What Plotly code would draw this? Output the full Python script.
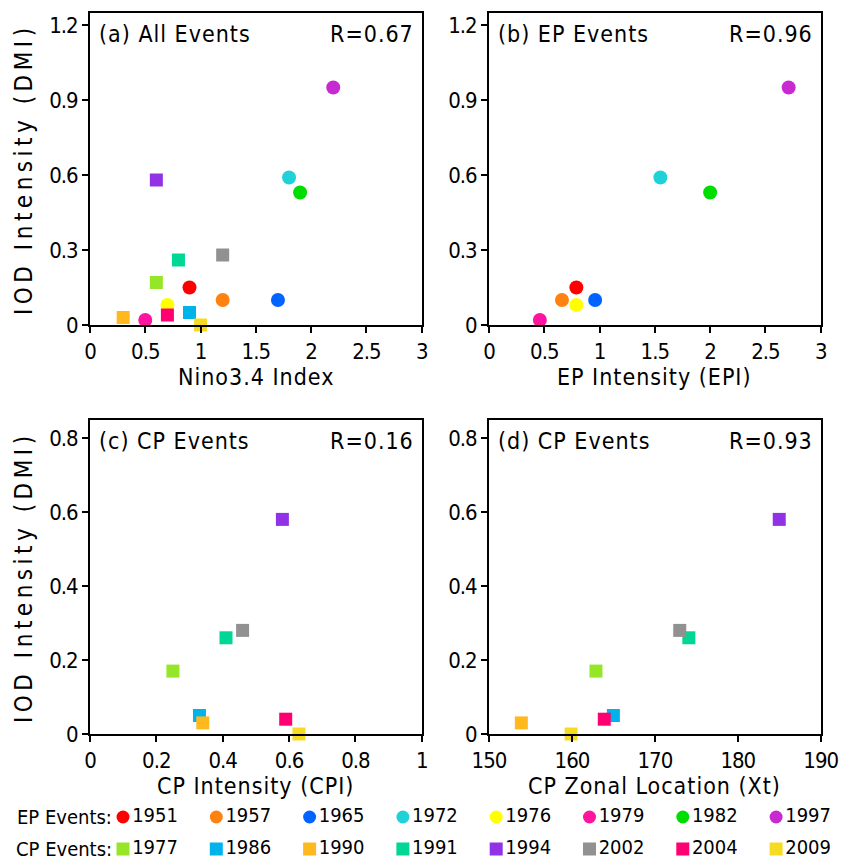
import plotly.graph_objects as go

# ---------------- data ----------------
ep_years = ["1951", "1957", "1965", "1972", "1976", "1979", "1982", "1997"]
ep_colors = ["#ff0000", "#ff8210", "#0064ff", "#20d2d8", "#ffff00", "#ff14a0", "#00de00", "#c82ad2"]
ep_nino34 = [0.90, 1.20, 1.70, 1.80, 0.70, 0.50, 1.90, 2.20]
ep_dmi = [0.15, 0.10, 0.10, 0.59, 0.08, 0.02, 0.53, 0.95]
ep_epi = [0.79, 0.66, 0.96, 1.55, 0.79, 0.46, 2.00, 2.71]

cp_years = ["1977", "1986", "1990", "1991", "1994", "2002", "2004", "2009"]
cp_colors = ["#96e628", "#00b4eb", "#ffb91e", "#00d796", "#9132e6", "#919191", "#ff0073", "#f5dc23"]
cp_nino34 = [0.60, 0.90, 0.30, 0.80, 0.60, 1.20, 0.70, 1.00]
cp_dmi = [0.17, 0.05, 0.03, 0.26, 0.58, 0.28, 0.04, 0.00]
cp_cpi = [0.25, 0.33, 0.34, 0.41, 0.58, 0.46, 0.59, 0.63]
cp_xt = [162.9, 165.0, 153.9, 174.1, 185.0, 173.0, 163.9, 159.9]

panel_titles = ["(a) All Events", "(b) EP Events", "(c) CP Events", "(d) CP Events"]
panel_r = ["R=0.67", "R=0.96", "R=0.16", "R=0.93"]
x_titles = ["Nino3.4 Index", "EP Intensity (EPI)", "CP Intensity (CPI)", "CP Zonal Location (Xt)"]
y_title = "IOD Intensity (DMI)"

top_yticks = [0, 0.3, 0.6, 0.9, 1.2]
top_yticklabels = ["0", "0.3", "0.6", "0.9", "1.2"]
bot_yticks = [0, 0.2, 0.4, 0.6, 0.8]
bot_yticklabels = ["0", "0.2", "0.4", "0.6", "0.8"]
ab_xticks = [0, 0.5, 1, 1.5, 2, 2.5, 3]
ab_xticklabels = ["0", "0.5", "1", "1.5", "2", "2.5", "3"]
c_xticks = [0, 0.2, 0.4, 0.6, 0.8, 1]
c_xticklabels = ["0", "0.2", "0.4", "0.6", "0.8", "1"]
d_xticks = [150, 160, 170, 180, 190]
d_xticklabels = ["150", "160", "170", "180", "190"]

# ---------------- style ----------------
W, H = 843, 860
FONT = "DejaVu Sans Condensed, DejaVu Sans, sans-serif"
FS = 23
LS = "1px"


def sp(t, ls=LS):
    return "<span style='letter-spacing:%s'>%s</span>" % (ls, t)


def px_dom_x(a, b):
    return [a / W, b / W]


def px_dom_y(top, bot):
    return [1 - bot / H, 1 - top / H]


fig = go.Figure()

panels = [
    dict(xd=px_dom_x(90, 421.7), yd=px_dom_y(13, 325), xr=[0, 3], yr=[0, 1.248],
         xt=ab_xticks, xtl=ab_xticklabels, yt=top_yticks, ytl=top_yticklabels),
    dict(xd=px_dom_x(489, 820.7), yd=px_dom_y(13, 325), xr=[0, 3], yr=[0, 1.248],
         xt=ab_xticks, xtl=ab_xticklabels, yt=top_yticks, ytl=top_yticklabels),
    dict(xd=px_dom_x(90, 421.7), yd=px_dom_y(420, 734), xr=[0, 1], yr=[0, 0.8486],
         xt=c_xticks, xtl=c_xticklabels, yt=bot_yticks, ytl=bot_yticklabels),
    dict(xd=px_dom_x(489, 820.7), yd=px_dom_y(420, 734), xr=[150, 190], yr=[0, 0.8486],
         xt=d_xticks, xtl=d_xticklabels, yt=bot_yticks, ytl=bot_yticklabels),
]

axis_common = dict(
    showgrid=False, zeroline=False, showline=True, linecolor="black", linewidth=2,
    mirror=True, ticks="outside", ticklen=6, tickwidth=2, tickcolor="black",
    tickfont=dict(family=FONT, size=22, color="black"), automargin=False,
)

for i, p in enumerate(panels, start=1):
    fig.update_layout(**{
        "xaxis%d" % i: dict(domain=p["xd"], range=p["xr"], tickvals=p["xt"],
                            ticktext=[sp(t, "-1px") for t in p["xtl"]],
                            anchor="y%d" % i, **axis_common),
        "yaxis%d" % i: dict(domain=p["yd"], range=p["yr"], tickvals=p["yt"],
                            ticktext=[sp(t, "-1px") for t in p["ytl"]],
                            anchor="x%d" % i, **axis_common),
    })

circle = dict(symbol="circle", size=14, line=dict(width=0))
square = dict(symbol="square", size=13, line=dict(width=0))

# (a) all events
fig.add_trace(go.Scatter(x=ep_nino34, y=ep_dmi, mode="markers", marker=dict(color=ep_colors, **circle),
                         xaxis="x", yaxis="y", cliponaxis=False, showlegend=False))
fig.add_trace(go.Scatter(x=cp_nino34, y=cp_dmi, mode="markers", marker=dict(color=cp_colors, **square),
                         xaxis="x", yaxis="y", cliponaxis=False, showlegend=False))
# (b) EP events
fig.add_trace(go.Scatter(x=ep_epi, y=ep_dmi, mode="markers", marker=dict(color=ep_colors, **circle),
                         xaxis="x2", yaxis="y2", cliponaxis=False, showlegend=False))
# (c) CP intensity
fig.add_trace(go.Scatter(x=cp_cpi, y=cp_dmi, mode="markers", marker=dict(color=cp_colors, **square),
                         xaxis="x3", yaxis="y3", cliponaxis=False, showlegend=False))
# (d) CP zonal location
fig.add_trace(go.Scatter(x=cp_xt, y=cp_dmi, mode="markers", marker=dict(color=cp_colors, **square),
                         xaxis="x4", yaxis="y4", cliponaxis=False, showlegend=False))

# ---------------- custom legend rows ----------------
fig.update_layout(
    xaxis5=dict(domain=px_dom_x(123, 123 + 93.3 * 7), range=[0, 7], visible=False, anchor="y5",
                automargin=False),
    yaxis5=dict(domain=px_dom_y(817, 849), range=[0, 1], visible=False, anchor="x5", automargin=False),
)
leg_font = dict(family=FONT, size=20, color="black")
fig.add_trace(go.Scatter(x=list(range(len(ep_years))), y=[1] * len(ep_years), mode="markers+text",
                         marker=dict(color=ep_colors, symbol="circle", size=13, line=dict(width=0)),
                         text=ep_years, textposition="middle right",
                         textfont=leg_font, xaxis="x5", yaxis="y5", cliponaxis=False, showlegend=False))
fig.add_trace(go.Scatter(x=list(range(len(cp_years))), y=[0] * len(cp_years), mode="markers+text",
                         marker=dict(color=cp_colors, symbol="square", size=13, line=dict(width=0)),
                         text=cp_years, textposition="middle right",
                         textfont=leg_font, xaxis="x5", yaxis="y5", cliponaxis=False, showlegend=False))

annotations = []
for name, yv in [("EP Events:", 1), ("CP Events:", 0)]:
    annotations.append(dict(text=name, x=0, y=yv, xref="x5", yref="y5", xanchor="right",
                            yanchor="middle", xshift=-9, showarrow=False, font=leg_font))

# ---------------- panel texts ----------------
ann_font = dict(family=FONT, size=FS, color="black")
for i in range(1, 5):
    xr = "x%d domain" % i if i > 1 else "x domain"
    yr = "y%d domain" % i if i > 1 else "y domain"
    annotations.append(dict(text=sp(panel_titles[i - 1]), x=0, y=1, xref=xr, yref=yr, xanchor="left",
                            yanchor="middle", xshift=7, yshift=-21, showarrow=False, font=ann_font))
    annotations.append(dict(text=sp(panel_r[i - 1]), x=1, y=1, xref=xr, yref=yr, xanchor="right",
                            yanchor="middle", xshift=-6, yshift=-21, showarrow=False, font=ann_font))
    annotations.append(dict(text=sp(x_titles[i - 1]), x=0.5, y=0, xref=xr, yref=yr, xanchor="center",
                            yanchor="middle", yshift=-52, showarrow=False, font=ann_font))
    if i in (1, 3):
        annotations.append(dict(text=sp(y_title, "4.5px"), x=0, y=0.5, xref=xr, yref=yr, xanchor="center",
                                yanchor="middle", xshift=-66, textangle=-90, showarrow=False,
                                font=dict(family=FONT, size=24, color="black")))

fig.update_layout(
    width=W, height=H, margin=dict(l=0, r=0, t=0, b=0, autoexpand=False),
    paper_bgcolor="white", plot_bgcolor="white",
    annotations=annotations, showlegend=False,
)

fig.write_html("out.html", config={"displayModeBar": False},
               post_script="document.body.style.margin='0';")
